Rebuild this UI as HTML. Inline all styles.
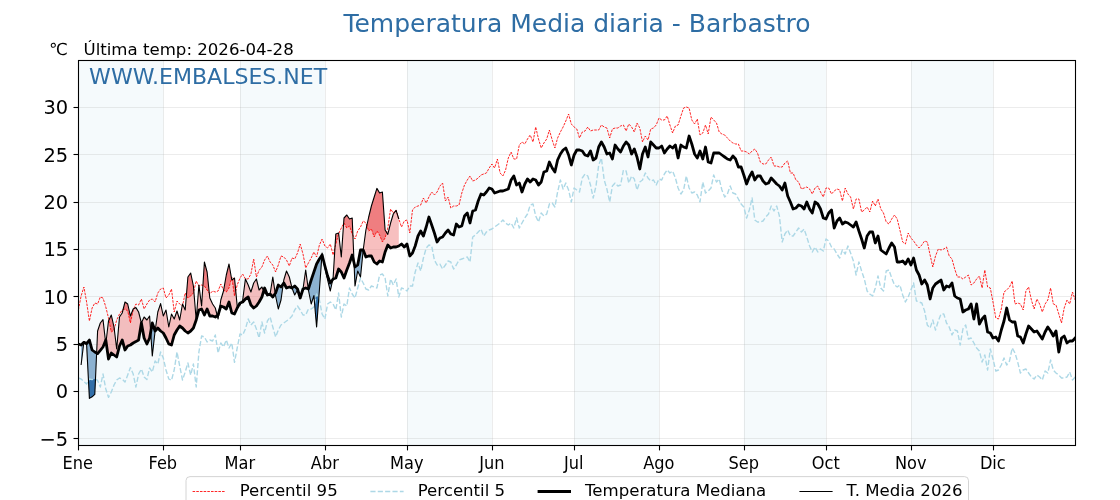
<!DOCTYPE html>
<html lang="es"><head><meta charset="utf-8"><title>Temperatura Media diaria - Barbastro</title>
<style>html,body{margin:0;padding:0;background:#fff;}body{width:1120px;height:500px;overflow:hidden;}svg{display:block;}text{font-family:"DejaVu Sans","Liberation Sans",sans-serif;}</style></head><body>
<svg width="1120" height="500" viewBox="0 0 1120 500">
<rect width="1120" height="500" fill="#fff"/>
<defs><clipPath id="ax"><rect x="78.4" y="60.0" width="996.8" height="385.0"/></clipPath></defs>
<g fill="#f5fafc">
<rect x="78.4" y="60.0" width="84.9" height="385.0"/>
<rect x="240.0" y="60.0" width="84.9" height="385.0"/>
<rect x="407.0" y="60.0" width="84.9" height="385.0"/>
<rect x="574.1" y="60.0" width="84.9" height="385.0"/>
<rect x="743.8" y="60.0" width="82.2" height="385.0"/>
<rect x="910.9" y="60.0" width="82.2" height="385.0"/>
</g>
<g stroke="#b0b0b0" stroke-opacity="0.3" stroke-width="0.8" fill="none">
<line x1="163.5" y1="60.0" x2="163.5" y2="445.0"/>
<line x1="240.5" y1="60.0" x2="240.5" y2="445.0"/>
<line x1="325.5" y1="60.0" x2="325.5" y2="445.0"/>
<line x1="407.5" y1="60.0" x2="407.5" y2="445.0"/>
<line x1="492.5" y1="60.0" x2="492.5" y2="445.0"/>
<line x1="574.5" y1="60.0" x2="574.5" y2="445.0"/>
<line x1="659.5" y1="60.0" x2="659.5" y2="445.0"/>
<line x1="744.5" y1="60.0" x2="744.5" y2="445.0"/>
<line x1="826.5" y1="60.0" x2="826.5" y2="445.0"/>
<line x1="911.5" y1="60.0" x2="911.5" y2="445.0"/>
<line x1="993.5" y1="60.0" x2="993.5" y2="445.0"/>
<line x1="78.4" y1="438.5" x2="1075.2" y2="438.5"/>
<line x1="78.4" y1="391.5" x2="1075.2" y2="391.5"/>
<line x1="78.4" y1="344.5" x2="1075.2" y2="344.5"/>
<line x1="78.4" y1="296.5" x2="1075.2" y2="296.5"/>
<line x1="78.4" y1="249.5" x2="1075.2" y2="249.5"/>
<line x1="78.4" y1="202.5" x2="1075.2" y2="202.5"/>
<line x1="78.4" y1="154.5" x2="1075.2" y2="154.5"/>
<line x1="78.4" y1="107.5" x2="1075.2" y2="107.5"/>
</g>
<g clip-path="url(#ax)">
<path d="M83.8 342.5 L83.9 341.6 L85.2 343.0 L85.2 343.0 L83.9 342.4 L83.8 342.5 Z" fill="#f08080" fill-opacity="0.5" stroke="none"/>
<path d="M96.6 353.0 L97.6 331.0 L100.3 323.0 L103.0 319.6 L105.4 340.9 L105.4 340.9 L103.0 347.0 L100.3 350.4 L97.6 353.6 L96.6 353.0 Z" fill="#f08080" fill-opacity="0.5" stroke="none"/>
<path d="M106.0 341.8 L108.5 321.0 L111.3 315.0 L114.0 327.0 L116.7 349.0 L119.5 317.0 L122.2 313.0 L125.0 302.0 L127.7 304.0 L130.4 316.0 L133.2 309.0 L135.9 307.6 L138.6 312.0 L141.4 323.0 L141.4 323.0 L138.6 340.0 L135.9 341.6 L133.2 343.0 L130.4 345.0 L127.7 346.0 L125.0 350.0 L122.2 340.0 L119.5 346.0 L116.7 357.0 L114.0 355.0 L111.3 353.0 L108.5 359.0 L106.0 341.8 Z" fill="#f08080" fill-opacity="0.5" stroke="none"/>
<path d="M141.4 323.0 L144.1 317.0 L146.9 320.0 L149.6 316.0 L150.7 332.0 L150.7 332.0 L149.6 338.0 L146.9 344.0 L144.1 338.0 L141.4 323.0 Z" fill="#f08080" fill-opacity="0.5" stroke="none"/>
<path d="M155.1 331.0 L157.8 312.0 L160.6 303.6 L163.3 316.0 L166.0 310.0 L168.8 327.0 L171.5 314.0 L174.2 319.0 L177.0 311.0 L179.7 320.0 L182.5 304.0 L185.2 310.0 L187.9 277.0 L190.7 273.0 L193.4 286.0 L196.2 320.0 L196.2 320.0 L193.4 328.0 L190.7 331.0 L187.9 333.0 L185.2 331.0 L182.5 328.0 L179.7 326.0 L177.0 330.0 L174.2 335.0 L171.5 345.0 L168.8 344.0 L166.0 338.0 L163.3 333.0 L160.6 331.0 L157.8 328.0 L155.1 331.0 Z" fill="#f08080" fill-opacity="0.5" stroke="none"/>
<path d="M196.2 320.0 L198.9 285.0 L201.6 306.0 L204.4 262.0 L207.1 272.0 L209.8 298.0 L212.6 304.0 L215.3 308.0 L217.2 315.6 L217.2 315.6 L215.3 317.0 L212.6 316.0 L209.8 316.0 L207.1 309.0 L204.4 315.0 L201.6 309.0 L198.9 310.0 L196.2 320.0 Z" fill="#f08080" fill-opacity="0.5" stroke="none"/>
<path d="M219.2 311.4 L220.8 300.0 L223.5 291.0 L226.3 275.0 L229.0 264.0 L231.8 280.0 L234.5 278.0 L237.2 306.0 L238.6 305.5 L238.6 305.5 L237.2 308.0 L234.5 314.0 L231.8 313.0 L229.0 302.0 L226.3 309.0 L223.5 307.0 L220.8 306.0 L219.2 311.4 Z" fill="#f08080" fill-opacity="0.5" stroke="none"/>
<path d="M241.3 302.5 L242.7 300.0 L245.4 279.0 L248.2 285.0 L250.9 292.0 L253.7 283.0 L256.4 279.0 L259.1 290.0 L261.9 287.0 L263.7 291.0 L263.7 291.0 L261.9 297.0 L259.1 302.0 L256.4 306.0 L253.7 308.0 L250.9 305.0 L248.2 297.0 L245.4 299.0 L242.7 302.0 L241.3 302.5 Z" fill="#f08080" fill-opacity="0.5" stroke="none"/>
<path d="M270.1 294.0 L272.8 277.0 L275.2 293.5 L275.2 293.5 L272.8 297.0 L270.1 294.0 Z" fill="#f08080" fill-opacity="0.5" stroke="none"/>
<path d="M283.3 283.8 L283.8 280.0 L286.5 271.0 L289.3 277.0 L292.0 288.0 L292.0 288.0 L289.3 287.0 L286.5 288.0 L283.8 283.0 L283.3 283.8 Z" fill="#f08080" fill-opacity="0.5" stroke="none"/>
<path d="M303.0 289.0 L305.7 270.0 L308.3 288.9 L308.3 288.9 L305.7 288.0 L303.0 289.0 Z" fill="#f08080" fill-opacity="0.5" stroke="none"/>
<path d="M322.0 255.2 L322.1 253.0 L323.5 260.5 L323.5 260.5 L322.1 255.0 L322.0 255.2 Z" fill="#f08080" fill-opacity="0.5" stroke="none"/>
<path d="M332.8 279.4 L333.1 278.0 L335.8 234.0 L338.6 233.0 L341.3 257.0 L344.0 218.0 L346.8 215.0 L349.5 219.0 L352.2 218.0 L354.1 262.9 L354.1 262.9 L352.2 255.0 L349.5 263.0 L346.8 270.0 L344.0 278.0 L341.3 272.0 L338.6 269.0 L335.8 278.0 L333.1 279.0 L332.8 279.4 Z" fill="#f08080" fill-opacity="0.5" stroke="none"/>
<path d="M363.2 250.0 L365.9 230.0 L368.7 217.0 L371.4 206.0 L374.2 197.0 L376.9 188.4 L379.6 193.0 L382.4 192.0 L385.1 230.0 L387.8 234.4 L390.6 223.0 L393.3 214.0 L396.1 210.4 L398.8 219.0 L398.8 246.0 L396.1 247.0 L393.3 247.0 L390.6 248.0 L387.8 245.0 L385.1 252.0 L382.4 262.0 L379.6 261.0 L376.9 264.0 L374.2 262.0 L371.4 256.0 L368.7 256.0 L365.9 257.0 L363.2 250.0 Z" fill="#f08080" fill-opacity="0.5" stroke="none"/>
<path d="M108.9 320.1 L111.3 315.0 L114.0 327.0 L114.3 329.1 L114.3 329.1 L114.0 330.0 L111.3 332.0 L108.9 320.1 Z" fill="#e73e42" fill-opacity="0.5" stroke="none"/>
<path d="M123.0 309.7 L125.0 302.0 L127.7 304.0 L130.4 316.0 L133.2 309.0 L133.8 308.7 L133.8 308.7 L133.2 310.0 L130.4 323.0 L127.7 311.0 L125.0 309.0 L123.0 309.7 Z" fill="#e73e42" fill-opacity="0.5" stroke="none"/>
<path d="M182.2 305.8 L182.5 304.0 L182.7 304.6 L182.7 304.6 L182.5 306.0 L182.2 305.8 Z" fill="#e73e42" fill-opacity="0.5" stroke="none"/>
<path d="M186.4 295.2 L187.9 277.0 L190.7 273.0 L193.4 286.0 L193.8 291.2 L193.8 291.2 L193.4 293.0 L190.7 296.0 L187.9 298.0 L186.4 295.2 Z" fill="#e73e42" fill-opacity="0.5" stroke="none"/>
<path d="M198.8 285.9 L198.9 285.0 L199.0 286.0 L199.0 286.0 L198.9 286.0 L198.8 285.9 Z" fill="#e73e42" fill-opacity="0.5" stroke="none"/>
<path d="M202.9 285.5 L204.4 262.0 L207.1 272.0 L209.3 293.3 L209.3 293.3 L207.1 290.0 L204.4 286.0 L202.9 285.5 Z" fill="#e73e42" fill-opacity="0.5" stroke="none"/>
<path d="M223.7 290.1 L226.3 275.0 L229.0 264.0 L231.4 278.2 L231.4 278.2 L229.0 288.0 L226.3 292.0 L223.7 290.1 Z" fill="#e73e42" fill-opacity="0.5" stroke="none"/>
<path d="M232.1 279.7 L234.5 278.0 L235.8 290.9 L235.8 290.9 L234.5 296.0 L232.1 279.7 Z" fill="#e73e42" fill-opacity="0.5" stroke="none"/>
<path d="M335.0 247.3 L335.8 234.0 L338.6 233.0 L338.6 233.8 L338.6 233.8 L338.6 234.0 L335.8 244.0 L335.0 247.3 Z" fill="#e73e42" fill-opacity="0.5" stroke="none"/>
<path d="M343.6 223.7 L344.0 218.0 L346.8 215.0 L349.5 219.0 L352.2 218.0 L352.9 235.3 L352.9 235.3 L352.2 234.0 L349.5 226.0 L346.8 228.0 L344.0 223.0 L343.6 223.7 Z" fill="#e73e42" fill-opacity="0.5" stroke="none"/>
<path d="M366.9 225.7 L368.7 217.0 L371.4 206.0 L374.2 197.0 L376.9 188.4 L379.6 193.0 L382.4 192.0 L385.1 230.0 L386.6 232.4 L386.6 232.4 L385.1 238.0 L382.4 242.0 L379.6 235.0 L376.9 231.0 L374.2 237.0 L371.4 229.0 L368.7 231.0 L366.9 225.7 Z" fill="#e73e42" fill-opacity="0.5" stroke="none"/>
<path d="M81.1 345.0 L83.8 342.5 L83.8 342.5 L81.1 365.0 Z" fill="#4682b4" fill-opacity="0.6" stroke="none"/>
<path d="M85.2 343.0 L86.6 343.6 L89.4 340.0 L92.1 350.0 L94.8 352.0 L96.6 353.0 L96.6 353.0 L94.8 394.4 L92.1 396.8 L89.4 398.4 L86.6 344.4 L85.2 343.0 Z" fill="#4682b4" fill-opacity="0.6" stroke="none"/>
<path d="M105.4 340.9 L105.8 340.0 L106.0 341.8 L106.0 341.8 L105.8 344.0 L105.4 340.9 Z" fill="#4682b4" fill-opacity="0.6" stroke="none"/>
<path d="M150.7 332.0 L152.3 323.0 L155.1 331.0 L155.1 331.0 L152.3 356.0 L150.7 332.0 Z" fill="#4682b4" fill-opacity="0.6" stroke="none"/>
<path d="M217.2 315.6 L218.1 315.0 L219.2 311.4 L219.2 311.4 L218.1 319.0 L217.2 315.6 Z" fill="#4682b4" fill-opacity="0.6" stroke="none"/>
<path d="M238.6 305.5 L240.0 303.0 L241.3 302.5 L241.3 302.5 L240.0 305.0 L238.6 305.5 Z" fill="#4682b4" fill-opacity="0.6" stroke="none"/>
<path d="M263.7 291.0 L264.6 288.0 L267.4 295.0 L267.4 295.0 L264.6 293.0 L263.7 291.0 Z" fill="#4682b4" fill-opacity="0.6" stroke="none"/>
<path d="M275.2 293.5 L275.6 293.0 L278.3 285.0 L281.0 287.0 L283.3 283.8 L283.3 283.8 L281.0 300.0 L278.3 309.0 L275.6 296.0 L275.2 293.5 Z" fill="#4682b4" fill-opacity="0.6" stroke="none"/>
<path d="M292.0 288.0 L294.7 286.0 L297.5 289.0 L300.2 298.0 L300.2 298.0 L297.5 290.0 L294.7 295.0 L292.0 288.0 Z" fill="#4682b4" fill-opacity="0.6" stroke="none"/>
<path d="M308.3 288.9 L308.4 289.0 L311.2 280.0 L313.9 272.0 L316.6 264.0 L319.4 259.0 L322.0 255.2 L322.0 255.2 L319.4 290.0 L316.6 327.0 L313.9 295.6 L311.2 304.0 L308.4 290.0 L308.3 288.9 Z" fill="#4682b4" fill-opacity="0.6" stroke="none"/>
<path d="M323.5 260.5 L324.9 266.0 L327.6 276.0 L330.3 283.0 L332.8 279.4 L332.8 279.4 L330.3 291.0 L327.6 280.0 L324.9 268.0 L323.5 260.5 Z" fill="#4682b4" fill-opacity="0.6" stroke="none"/>
<path d="M354.1 262.9 L355.0 267.0 L357.7 265.0 L360.5 250.0 L363.2 250.0 L363.2 250.0 L360.5 277.0 L357.7 271.0 L355.0 286.0 L354.1 262.9 Z" fill="#4682b4" fill-opacity="0.6" stroke="none"/>
<path d="M88.5 380.6 L89.4 379.0 L92.1 379.6 L94.8 379.0 L95.5 379.3 L95.5 379.3 L94.8 394.4 L92.1 396.8 L89.4 398.4 L88.5 380.6 Z" fill="#2766a3" fill-opacity="0.9" stroke="none"/>
<path d="M314.6 303.7 L316.6 294.0 L318.7 298.6 L318.7 298.6 L316.6 327.0 L314.6 303.7 Z" fill="#2766a3" fill-opacity="0.9" stroke="none"/>
<path d="M78.4 310.0 L81.1 296.0 L83.9 287.0 L86.6 302.0 L89.4 321.0 L92.1 308.0 L94.8 303.0 L97.6 304.0 L100.3 297.0 L103.0 298.0 L105.8 307.0 L108.5 318.0 L111.3 332.0 L114.0 330.0 L116.7 320.0 L119.5 314.0 L122.2 310.0 L125.0 309.0 L127.7 311.0 L130.4 323.0 L133.2 310.0 L135.9 304.0 L138.6 305.0 L141.4 299.0 L144.1 309.0 L146.9 304.0 L149.6 300.0 L152.3 299.0 L155.1 302.0 L157.8 293.0 L160.6 289.0 L163.3 288.0 L166.0 298.0 L168.8 295.0 L171.5 289.0 L174.2 312.0 L177.0 301.0 L179.7 304.0 L182.5 306.0 L185.2 293.0 L187.9 298.0 L190.7 296.0 L193.4 293.0 L196.2 281.0 L198.9 286.0 L201.6 285.0 L204.4 286.0 L207.1 290.0 L209.8 294.0 L212.6 291.0 L215.3 292.0 L218.1 291.0 L220.8 284.0 L223.5 290.0 L226.3 292.0 L229.0 288.0 L231.8 277.0 L234.5 296.0 L237.2 285.0 L240.0 278.0 L242.7 274.0 L245.4 279.0 L248.2 278.9 L250.9 274.0 L253.7 259.0 L256.4 277.0 L259.1 270.3 L261.9 267.0 L264.6 260.0 L267.4 256.0 L270.1 262.0 L272.8 265.0 L275.6 272.0 L278.3 265.0 L281.0 256.0 L283.8 257.0 L286.5 260.0 L289.3 266.0 L292.0 258.0 L294.7 259.0 L297.5 253.0 L300.2 244.0 L303.0 254.0 L305.7 268.0 L308.4 263.0 L311.2 258.0 L313.9 252.0 L316.6 257.0 L319.4 245.0 L322.1 239.0 L324.9 246.0 L327.6 248.0 L330.3 244.0 L333.1 255.0 L335.8 244.0 L338.6 234.0 L341.3 228.0 L344.0 223.0 L346.8 228.0 L349.5 226.0 L352.2 234.0 L355.0 239.0 L357.7 231.0 L360.5 227.0 L363.2 221.0 L365.9 223.0 L368.7 231.0 L371.4 229.0 L374.2 237.0 L376.9 231.0 L379.6 235.0 L382.4 242.0 L385.1 238.0 L387.8 228.0 L390.6 209.0 L393.3 213.0 L396.1 210.0 L398.8 219.0 L401.5 227.0 L404.3 221.0 L407.0 220.0 L409.8 233.0 L412.5 210.0 L415.2 207.0 L418.0 206.0 L420.7 205.0 L423.4 198.0 L426.2 203.0 L428.9 197.0 L431.7 192.0 L434.4 195.0 L437.1 192.0 L439.9 186.0 L442.6 183.0 L445.4 201.0 L448.1 197.0 L450.8 208.0 L453.6 206.0 L456.3 206.0 L459.0 205.0 L461.8 193.0 L464.5 185.0 L467.3 180.0 L470.0 176.0 L472.7 181.0 L475.5 180.0 L478.2 178.0 L481.0 175.0 L483.7 174.0 L486.4 173.0 L489.2 168.0 L491.9 164.0 L494.6 168.0 L497.4 159.0 L500.1 173.0 L502.9 176.0 L505.6 170.0 L508.3 158.0 L511.1 152.0 L513.8 159.0 L516.6 159.0 L519.3 145.0 L522.0 142.0 L524.8 144.0 L527.5 139.0 L530.2 135.0 L533.0 142.0 L535.7 127.0 L538.5 139.0 L541.2 148.0 L543.9 143.0 L546.7 139.0 L549.4 130.0 L552.2 140.0 L554.9 148.0 L557.6 138.0 L560.4 132.0 L563.1 127.0 L565.8 121.0 L568.6 114.0 L571.3 124.0 L574.1 127.0 L576.8 129.0 L579.5 138.0 L582.3 132.0 L585.0 131.0 L587.8 127.0 L590.5 131.0 L593.2 130.0 L596.0 130.0 L598.7 130.0 L601.4 125.0 L604.2 127.0 L606.9 128.0 L609.7 138.0 L612.4 129.0 L615.1 128.0 L617.9 128.0 L620.6 126.0 L623.4 125.0 L626.1 131.0 L628.8 124.0 L631.6 127.0 L634.3 132.0 L637.0 123.0 L639.8 128.0 L642.5 142.0 L645.3 136.0 L648.0 140.0 L650.7 129.0 L653.5 128.0 L656.2 125.0 L659.0 118.0 L661.7 120.0 L664.4 120.0 L667.2 116.0 L669.9 125.0 L672.6 133.0 L675.4 126.0 L678.1 125.0 L680.9 116.0 L683.6 108.0 L686.3 107.0 L689.1 108.0 L691.8 120.0 L694.6 124.0 L697.3 119.0 L700.0 135.0 L702.8 133.0 L705.5 125.0 L708.2 134.0 L711.0 117.0 L713.7 120.0 L716.5 123.0 L719.2 132.0 L721.9 134.0 L724.7 135.0 L727.4 138.0 L730.2 141.0 L732.9 143.0 L735.6 144.0 L738.4 144.0 L741.1 151.0 L743.8 151.0 L746.6 152.0 L749.3 154.0 L752.1 151.0 L754.8 149.0 L757.5 153.0 L760.3 162.0 L763.0 164.0 L765.8 164.0 L768.5 160.0 L771.2 157.0 L774.0 166.0 L776.7 166.0 L779.4 167.0 L782.2 167.0 L784.9 163.0 L787.7 161.0 L790.4 173.0 L793.1 173.0 L795.9 180.0 L798.6 182.0 L801.4 189.0 L804.1 188.0 L806.8 187.0 L809.6 189.0 L812.3 194.0 L815.0 188.0 L817.8 186.0 L820.5 192.0 L823.3 197.0 L826.0 188.0 L828.7 188.0 L831.5 194.0 L834.2 191.0 L837.0 189.0 L839.7 190.0 L842.4 201.0 L845.2 188.0 L847.9 194.0 L850.6 197.0 L853.4 209.0 L856.1 199.0 L858.9 199.0 L861.6 212.0 L864.3 210.0 L867.1 207.0 L869.8 212.0 L872.6 201.0 L875.3 206.0 L878.0 199.0 L880.8 209.0 L883.5 213.0 L886.2 222.0 L889.0 224.0 L891.7 219.0 L894.5 215.0 L897.2 219.0 L899.9 230.0 L902.7 242.0 L905.4 244.0 L908.2 233.0 L910.9 238.0 L913.6 241.0 L916.4 245.0 L919.1 248.0 L921.8 245.0 L924.6 241.0 L927.3 242.0 L930.1 255.0 L932.8 267.0 L935.5 256.0 L938.3 249.0 L941.0 250.0 L943.8 249.0 L946.5 247.0 L949.2 256.0 L952.0 259.0 L954.7 269.0 L957.4 277.0 L960.2 277.0 L962.9 279.0 L965.7 277.0 L968.4 275.0 L971.1 285.0 L973.9 283.0 L976.6 279.0 L979.4 276.0 L982.1 288.0 L984.8 270.0 L987.6 287.0 L990.3 288.0 L993.0 302.0 L995.8 318.0 L998.5 319.0 L1001.3 309.0 L1004.0 292.0 L1006.7 290.0 L1009.5 287.0 L1012.2 281.0 L1015.0 304.0 L1017.7 303.0 L1020.4 304.0 L1023.2 310.0 L1025.9 291.0 L1028.6 287.0 L1031.4 300.0 L1034.1 309.0 L1036.9 299.0 L1039.6 304.0 L1042.3 312.0 L1045.1 304.0 L1047.8 300.0 L1050.6 288.0 L1053.3 304.0 L1056.0 305.0 L1058.8 314.0 L1061.5 323.0 L1064.2 308.0 L1067.0 300.0 L1069.7 304.0 L1072.5 292.0 L1075.2 300.0" fill="none" stroke="#ff0000" stroke-width="0.85" stroke-dasharray="2.57 1.11" stroke-linejoin="round"/>
<path d="M78.4 378.0 L81.1 379.0 L83.9 381.6 L86.6 384.0 L89.4 379.0 L92.1 379.6 L94.8 379.0 L97.6 380.4 L100.3 387.0 L103.0 374.0 L105.8 389.0 L108.5 397.4 L111.3 392.0 L114.0 385.0 L116.7 380.0 L119.5 378.0 L122.2 379.0 L125.0 382.0 L127.7 375.0 L130.4 367.6 L133.2 374.0 L135.9 387.0 L138.6 374.0 L141.4 369.0 L144.1 377.0 L146.9 379.6 L149.6 368.0 L152.3 372.0 L155.1 361.0 L157.8 364.0 L160.6 352.0 L163.3 358.0 L166.0 370.0 L168.8 379.0 L171.5 380.4 L174.2 370.0 L177.0 352.0 L179.7 366.0 L182.5 380.0 L185.2 372.0 L187.9 363.0 L190.7 375.0 L193.4 364.0 L196.2 387.0 L198.9 352.0 L201.6 336.0 L204.4 337.0 L207.1 342.0 L209.8 340.0 L212.6 341.0 L215.3 335.0 L218.1 353.0 L220.8 343.0 L223.5 347.0 L226.3 340.0 L229.0 348.0 L231.8 343.0 L234.5 362.4 L237.2 348.0 L240.0 334.0 L242.7 335.0 L245.4 329.0 L248.2 319.0 L250.9 325.0 L253.7 322.0 L256.4 329.0 L259.1 338.0 L261.9 322.0 L264.6 333.0 L267.4 321.0 L270.1 317.0 L272.8 327.0 L275.6 337.0 L278.3 330.0 L281.0 325.0 L283.8 323.0 L286.5 321.0 L289.3 319.0 L292.0 316.0 L294.7 310.0 L297.5 306.0 L300.2 310.0 L303.0 315.0 L305.7 315.0 L308.4 309.0 L311.2 309.0 L313.9 307.0 L316.6 294.0 L319.4 300.0 L322.1 314.0 L324.9 319.0 L327.6 304.0 L330.3 302.0 L333.1 304.0 L335.8 310.0 L338.6 293.0 L341.3 317.0 L344.0 304.0 L346.8 306.0 L349.5 288.0 L352.2 294.0 L355.0 298.0 L357.7 288.0 L360.5 278.0 L363.2 283.0 L365.9 289.0 L368.7 290.0 L371.4 286.0 L374.2 287.0 L376.9 288.0 L379.6 275.0 L382.4 274.0 L385.1 278.0 L387.8 296.0 L390.6 279.0 L393.3 285.0 L396.1 279.0 L398.8 297.0 L401.5 288.0 L404.3 289.0 L407.0 291.0 L409.8 286.0 L412.5 286.0 L415.2 272.0 L418.0 263.0 L420.7 271.0 L423.4 258.0 L426.2 248.0 L428.9 245.0 L431.7 246.0 L434.4 260.0 L437.1 265.0 L439.9 264.0 L442.6 269.0 L445.4 265.0 L448.1 261.0 L450.8 262.0 L453.6 269.0 L456.3 265.0 L459.0 260.0 L461.8 259.0 L464.5 258.0 L467.3 257.0 L470.0 262.0 L472.7 237.0 L475.5 235.0 L478.2 232.0 L481.0 229.0 L483.7 236.0 L486.4 232.0 L489.2 230.0 L491.9 229.0 L494.6 227.0 L497.4 225.0 L500.1 223.0 L502.9 220.0 L505.6 223.0 L508.3 225.0 L511.1 223.0 L513.8 228.0 L516.6 218.0 L519.3 228.0 L522.0 223.0 L524.8 218.0 L527.5 214.0 L530.2 205.0 L533.0 204.0 L535.7 216.0 L538.5 222.0 L541.2 213.0 L543.9 216.0 L546.7 214.0 L549.4 204.0 L552.2 203.0 L554.9 207.0 L557.6 192.0 L560.4 180.0 L563.1 189.0 L565.8 183.0 L568.6 190.0 L571.3 202.0 L574.1 188.0 L576.8 190.0 L579.5 192.0 L582.3 178.0 L585.0 174.0 L587.8 176.0 L590.5 185.0 L593.2 198.0 L596.0 186.0 L598.7 165.0 L601.4 158.0 L604.2 180.0 L606.9 189.0 L609.7 202.0 L612.4 186.0 L615.1 183.0 L617.9 186.0 L620.6 185.0 L623.4 170.0 L626.1 171.0 L628.8 183.0 L631.6 176.0 L634.3 179.0 L637.0 190.0 L639.8 182.0 L642.5 180.0 L645.3 173.0 L648.0 178.0 L650.7 181.0 L653.5 180.0 L656.2 185.0 L659.0 179.0 L661.7 180.0 L664.4 174.0 L667.2 170.0 L669.9 173.0 L672.6 171.0 L675.4 178.0 L678.1 188.0 L680.9 194.0 L683.6 190.0 L686.3 176.0 L689.1 188.0 L691.8 193.0 L694.6 192.0 L697.3 195.0 L700.0 202.0 L702.8 182.0 L705.5 193.0 L708.2 191.0 L711.0 188.0 L713.7 175.0 L716.5 182.0 L719.2 179.0 L721.9 190.0 L724.7 197.0 L727.4 194.0 L730.2 186.0 L732.9 193.0 L735.6 194.0 L738.4 199.0 L741.1 204.0 L743.8 207.0 L746.6 218.0 L749.3 210.0 L752.1 198.0 L754.8 220.0 L757.5 222.0 L760.3 222.0 L763.0 221.0 L765.8 217.0 L768.5 214.0 L771.2 206.0 L774.0 211.0 L776.7 206.0 L779.4 216.0 L782.2 242.0 L784.9 234.0 L787.7 230.0 L790.4 236.0 L793.1 236.0 L795.9 232.0 L798.6 228.0 L801.4 232.0 L804.1 229.0 L806.8 237.0 L809.6 246.0 L812.3 252.0 L815.0 247.0 L817.8 252.0 L820.5 249.0 L823.3 251.0 L826.0 239.0 L828.7 241.0 L831.5 247.0 L834.2 249.0 L837.0 254.0 L839.7 258.0 L842.4 250.0 L845.2 254.0 L847.9 246.0 L850.6 253.0 L853.4 261.0 L856.1 275.0 L858.9 262.0 L861.6 271.0 L864.3 279.0 L867.1 291.0 L869.8 294.0 L872.6 296.0 L875.3 288.0 L878.0 276.0 L880.8 288.0 L883.5 291.0 L886.2 271.0 L889.0 270.0 L891.7 278.0 L894.5 285.0 L897.2 287.0 L899.9 285.0 L902.7 295.0 L905.4 302.0 L908.2 297.0 L910.9 290.0 L913.6 283.0 L916.4 301.0 L919.1 302.0 L921.8 303.0 L924.6 311.0 L927.3 325.0 L930.1 328.0 L932.8 320.0 L935.5 330.0 L938.3 321.0 L941.0 314.0 L943.8 314.0 L946.5 323.0 L949.2 327.0 L952.0 335.0 L954.7 330.0 L957.4 331.0 L960.2 345.0 L962.9 329.0 L965.7 325.0 L968.4 339.0 L971.1 338.0 L973.9 343.0 L976.6 348.0 L979.4 351.0 L982.1 362.0 L984.8 355.0 L987.6 370.0 L990.3 349.0 L993.0 359.0 L995.8 371.0 L998.5 370.0 L1001.3 365.0 L1004.0 358.0 L1006.7 365.0 L1009.5 361.0 L1012.2 348.0 L1015.0 353.0 L1017.7 362.0 L1020.4 373.0 L1023.2 370.0 L1025.9 369.0 L1028.6 373.0 L1031.4 377.0 L1034.1 379.0 L1036.9 375.0 L1039.6 377.0 L1042.3 380.0 L1045.1 371.0 L1047.8 373.0 L1050.6 360.0 L1053.3 370.0 L1056.0 373.0 L1058.8 375.0 L1061.5 378.0 L1064.2 378.0 L1067.0 377.0 L1069.7 372.0 L1072.5 380.0 L1075.2 377.0" fill="none" stroke="#add8e6" stroke-width="1.39" stroke-dasharray="5.14 2.22" stroke-linejoin="round"/>
<path d="M78.4 344.0 L81.1 345.0 L83.9 342.4 L86.6 343.6 L89.4 340.0 L92.1 350.0 L94.8 352.0 L97.6 353.6 L100.3 350.4 L103.0 347.0 L105.8 340.0 L108.5 359.0 L111.3 353.0 L114.0 355.0 L116.7 357.0 L119.5 346.0 L122.2 340.0 L125.0 350.0 L127.7 346.0 L130.4 345.0 L133.2 343.0 L135.9 341.6 L138.6 340.0 L141.4 323.0 L144.1 338.0 L146.9 344.0 L149.6 338.0 L152.3 323.0 L155.1 331.0 L157.8 328.0 L160.6 331.0 L163.3 333.0 L166.0 338.0 L168.8 344.0 L171.5 345.0 L174.2 335.0 L177.0 330.0 L179.7 326.0 L182.5 328.0 L185.2 331.0 L187.9 333.0 L190.7 331.0 L193.4 328.0 L196.2 320.0 L198.9 310.0 L201.6 309.0 L204.4 315.0 L207.1 309.0 L209.8 316.0 L212.6 316.0 L215.3 317.0 L218.1 315.0 L220.8 306.0 L223.5 307.0 L226.3 309.0 L229.0 302.0 L231.8 313.0 L234.5 314.0 L237.2 308.0 L240.0 303.0 L242.7 302.0 L245.4 299.0 L248.2 297.0 L250.9 305.0 L253.7 308.0 L256.4 306.0 L259.1 302.0 L261.9 297.0 L264.6 288.0 L267.4 295.0 L270.1 294.0 L272.8 297.0 L275.6 293.0 L278.3 285.0 L281.0 287.0 L283.8 283.0 L286.5 288.0 L289.3 287.0 L292.0 288.0 L294.7 286.0 L297.5 289.0 L300.2 298.0 L303.0 289.0 L305.7 288.0 L308.4 289.0 L311.2 280.0 L313.9 272.0 L316.6 264.0 L319.4 259.0 L322.1 255.0 L324.9 266.0 L327.6 276.0 L330.3 283.0 L333.1 279.0 L335.8 278.0 L338.6 269.0 L341.3 272.0 L344.0 278.0 L346.8 270.0 L349.5 263.0 L352.2 255.0 L355.0 267.0 L357.7 265.0 L360.5 250.0 L363.2 250.0 L365.9 257.0 L368.7 256.0 L371.4 256.0 L374.2 262.0 L376.9 264.0 L379.6 261.0 L382.4 262.0 L385.1 252.0 L387.8 245.0 L390.6 248.0 L393.3 247.0 L396.1 247.0 L398.8 246.0 L401.5 244.0 L404.3 247.0 L407.0 244.0 L409.8 256.0 L412.5 253.0 L415.2 246.0 L418.0 236.0 L420.7 231.0 L423.4 236.0 L426.2 227.0 L428.9 217.0 L431.7 225.0 L434.4 233.0 L437.1 242.0 L439.9 238.0 L442.6 237.0 L445.4 233.0 L448.1 230.0 L450.8 234.0 L453.6 235.0 L456.3 224.0 L459.0 227.0 L461.8 226.0 L464.5 216.0 L467.3 213.0 L470.0 223.0 L472.7 211.0 L475.5 210.0 L478.2 201.0 L481.0 194.0 L483.7 195.0 L486.4 192.0 L489.2 188.0 L491.9 189.0 L494.6 193.0 L497.4 192.0 L500.1 191.0 L502.9 191.0 L505.6 190.0 L508.3 189.0 L511.1 180.0 L513.8 176.0 L516.6 185.0 L519.3 183.0 L522.0 192.0 L524.8 184.0 L527.5 179.0 L530.2 182.0 L533.0 179.0 L535.7 180.0 L538.5 185.0 L541.2 182.0 L543.9 172.0 L546.7 171.0 L549.4 162.0 L552.2 168.0 L554.9 172.0 L557.6 160.0 L560.4 154.0 L563.1 150.0 L565.8 148.0 L568.6 155.0 L571.3 165.0 L574.1 155.0 L576.8 150.0 L579.5 150.0 L582.3 151.0 L585.0 155.0 L587.8 156.0 L590.5 151.0 L593.2 160.0 L596.0 158.0 L598.7 147.0 L601.4 142.0 L604.2 147.0 L606.9 154.0 L609.7 153.0 L612.4 159.0 L615.1 145.0 L617.9 149.0 L620.6 152.0 L623.4 146.0 L626.1 142.0 L628.8 145.0 L631.6 154.0 L634.3 149.0 L637.0 157.0 L639.8 169.0 L642.5 154.0 L645.3 147.0 L648.0 157.0 L650.7 142.0 L653.5 145.0 L656.2 148.0 L659.0 148.0 L661.7 146.0 L664.4 153.0 L667.2 149.0 L669.9 146.0 L672.6 148.0 L675.4 145.0 L678.1 158.0 L680.9 145.0 L683.6 147.0 L686.3 148.0 L689.1 136.0 L691.8 144.0 L694.6 154.0 L697.3 158.0 L700.0 151.0 L702.8 159.0 L705.5 147.0 L708.2 162.0 L711.0 163.0 L713.7 153.0 L716.5 153.0 L719.2 153.0 L721.9 155.0 L724.7 157.0 L727.4 159.0 L730.2 160.0 L732.9 156.0 L735.6 159.0 L738.4 167.0 L741.1 167.0 L743.8 175.0 L746.6 184.0 L749.3 177.0 L752.1 172.0 L754.8 180.0 L757.5 176.0 L760.3 176.0 L763.0 181.0 L765.8 184.0 L768.5 183.0 L771.2 178.0 L774.0 181.0 L776.7 184.0 L779.4 186.0 L782.2 190.0 L784.9 183.0 L787.7 196.0 L790.4 202.0 L793.1 209.0 L795.9 208.0 L798.6 205.0 L801.4 206.0 L804.1 209.0 L806.8 202.0 L809.6 209.0 L812.3 213.0 L815.0 202.0 L817.8 204.0 L820.5 209.0 L823.3 218.0 L826.0 219.0 L828.7 213.0 L831.5 210.0 L834.2 228.0 L837.0 221.0 L839.7 218.0 L842.4 224.0 L845.2 222.0 L847.9 223.0 L850.6 225.0 L853.4 227.0 L856.1 222.0 L858.9 231.0 L861.6 239.0 L864.3 248.0 L867.1 236.0 L869.8 232.0 L872.6 232.0 L875.3 243.0 L878.0 236.0 L880.8 250.0 L883.5 252.0 L886.2 254.0 L889.0 248.0 L891.7 243.0 L894.5 247.0 L897.2 262.0 L899.9 262.0 L902.7 261.0 L905.4 264.0 L908.2 259.0 L910.9 265.0 L913.6 258.0 L916.4 270.0 L919.1 275.0 L921.8 284.0 L924.6 280.0 L927.3 285.0 L930.1 299.0 L932.8 288.0 L935.5 284.0 L938.3 282.0 L941.0 280.0 L943.8 290.0 L946.5 286.0 L949.2 287.0 L952.0 283.0 L954.7 296.0 L957.4 298.0 L960.2 299.0 L962.9 312.0 L965.7 310.0 L968.4 309.0 L971.1 304.0 L973.9 319.0 L976.6 304.0 L979.4 324.0 L982.1 319.0 L984.8 316.0 L987.6 332.0 L990.3 333.0 L993.0 338.0 L995.8 337.0 L998.5 341.0 L1001.3 330.0 L1004.0 321.0 L1006.7 308.0 L1009.5 320.0 L1012.2 322.0 L1015.0 322.0 L1017.7 336.0 L1020.4 337.0 L1023.2 343.0 L1025.9 334.0 L1028.6 326.0 L1031.4 329.0 L1034.1 332.0 L1036.9 331.0 L1039.6 335.0 L1042.3 339.0 L1045.1 332.0 L1047.8 327.0 L1050.6 331.0 L1053.3 336.0 L1056.0 331.0 L1058.8 352.0 L1061.5 338.0 L1064.2 336.0 L1067.0 343.0 L1069.7 341.0 L1072.5 341.0 L1075.2 338.0" fill="none" stroke="#000" stroke-width="2.8" stroke-linejoin="round" stroke-linecap="square"/>
<path d="M81.1 365.0 L83.9 341.6 L86.6 344.4 L89.4 398.4 L92.1 396.8 L94.8 394.4 L97.6 331.0 L100.3 323.0 L103.0 319.6 L105.8 344.0 L108.5 321.0 L111.3 315.0 L114.0 327.0 L116.7 349.0 L119.5 317.0 L122.2 313.0 L125.0 302.0 L127.7 304.0 L130.4 316.0 L133.2 309.0 L135.9 307.6 L138.6 312.0 L141.4 323.0 L144.1 317.0 L146.9 320.0 L149.6 316.0 L152.3 356.0 L155.1 331.0 L157.8 312.0 L160.6 303.6 L163.3 316.0 L166.0 310.0 L168.8 327.0 L171.5 314.0 L174.2 319.0 L177.0 311.0 L179.7 320.0 L182.5 304.0 L185.2 310.0 L187.9 277.0 L190.7 273.0 L193.4 286.0 L196.2 320.0 L198.9 285.0 L201.6 306.0 L204.4 262.0 L207.1 272.0 L209.8 298.0 L212.6 304.0 L215.3 308.0 L218.1 319.0 L220.8 300.0 L223.5 291.0 L226.3 275.0 L229.0 264.0 L231.8 280.0 L234.5 278.0 L237.2 306.0 L240.0 305.0 L242.7 300.0 L245.4 279.0 L248.2 285.0 L250.9 292.0 L253.7 283.0 L256.4 279.0 L259.1 290.0 L261.9 287.0 L264.6 293.0 L267.4 295.0 L270.1 294.0 L272.8 277.0 L275.6 296.0 L278.3 309.0 L281.0 300.0 L283.8 280.0 L286.5 271.0 L289.3 277.0 L292.0 288.0 L294.7 295.0 L297.5 290.0 L300.2 298.0 L303.0 289.0 L305.7 270.0 L308.4 290.0 L311.2 304.0 L313.9 295.6 L316.6 327.0 L319.4 290.0 L322.1 253.0 L324.9 268.0 L327.6 280.0 L330.3 291.0 L333.1 278.0 L335.8 234.0 L338.6 233.0 L341.3 257.0 L344.0 218.0 L346.8 215.0 L349.5 219.0 L352.2 218.0 L355.0 286.0 L357.7 271.0 L360.5 277.0 L363.2 250.0 L365.9 230.0 L368.7 217.0 L371.4 206.0 L374.2 197.0 L376.9 188.4 L379.6 193.0 L382.4 192.0 L385.1 230.0 L387.8 234.4 L390.6 223.0 L393.3 214.0 L396.1 210.4 L398.8 219.0" fill="none" stroke="#000" stroke-width="1.1" stroke-linejoin="round"/>
</g>
<rect x="78.5" y="60.5" width="997.0" height="385.0" fill="none" stroke="#000" stroke-width="1.1"/>
<g stroke="#000" stroke-width="1.1">
<line x1="78.5" y1="445.5" x2="78.5" y2="450.4"/>
<line x1="163.5" y1="445.5" x2="163.5" y2="450.4"/>
<line x1="240.5" y1="445.5" x2="240.5" y2="450.4"/>
<line x1="325.5" y1="445.5" x2="325.5" y2="450.4"/>
<line x1="407.5" y1="445.5" x2="407.5" y2="450.4"/>
<line x1="492.5" y1="445.5" x2="492.5" y2="450.4"/>
<line x1="574.5" y1="445.5" x2="574.5" y2="450.4"/>
<line x1="659.5" y1="445.5" x2="659.5" y2="450.4"/>
<line x1="744.5" y1="445.5" x2="744.5" y2="450.4"/>
<line x1="826.5" y1="445.5" x2="826.5" y2="450.4"/>
<line x1="911.5" y1="445.5" x2="911.5" y2="450.4"/>
<line x1="993.5" y1="445.5" x2="993.5" y2="450.4"/>
<line x1="73.5" y1="438.5" x2="78.4" y2="438.5"/>
<line x1="73.5" y1="391.5" x2="78.4" y2="391.5"/>
<line x1="73.5" y1="344.5" x2="78.4" y2="344.5"/>
<line x1="73.5" y1="296.5" x2="78.4" y2="296.5"/>
<line x1="73.5" y1="249.5" x2="78.4" y2="249.5"/>
<line x1="73.5" y1="202.5" x2="78.4" y2="202.5"/>
<line x1="73.5" y1="154.5" x2="78.4" y2="154.5"/>
<line x1="73.5" y1="107.5" x2="78.4" y2="107.5"/>
</g>
<g font-size="16.6px" fill="#000" text-anchor="middle">
<text transform="translate(77.8 468.8) scale(0.975 1.03)">Ene</text>
<text transform="translate(162.8 468.8) scale(0.975 1.03)">Feb</text>
<text transform="translate(239.8 468.8) scale(0.975 1.03)">Mar</text>
<text transform="translate(324.8 468.8) scale(0.975 1.03)">Abr</text>
<text transform="translate(406.8 468.8) scale(0.975 1.03)">May</text>
<text transform="translate(491.8 468.8) scale(0.975 1.03)">Jun</text>
<text transform="translate(573.8 468.8) scale(0.975 1.03)">Jul</text>
<text transform="translate(658.8 468.8) scale(0.975 1.03)">Ago</text>
<text transform="translate(743.8 468.8) scale(0.975 1.03)">Sep</text>
<text transform="translate(825.8 468.8) scale(0.975 1.03)">Oct</text>
<text transform="translate(910.8 468.8) scale(0.975 1.03)">Nov</text>
<text transform="translate(992.8 468.8) scale(0.975 1.03)">Dic</text>
</g>
<g font-size="19.44px" fill="#000" text-anchor="end">
<text x="68.2" y="445.5">−5</text>
<text x="68.2" y="398.2">0</text>
<text x="68.2" y="350.9">5</text>
<text x="68.2" y="303.6">10</text>
<text x="68.2" y="256.2">15</text>
<text x="68.2" y="208.9">20</text>
<text x="68.2" y="161.6">25</text>
<text x="68.2" y="114.2">30</text>
</g>
<text x="577.0" y="32.1" font-size="25px" fill="#2e6da4" text-anchor="middle">Temperatura Media diaria - Barbastro</text>
<text x="49.1" y="54.5" font-size="16.67px" fill="#000">℃</text>
<text x="83.5" y="54.5" font-size="16.6px" fill="#000">Última temp: 2026-04-28</text>
<text x="89.1" y="84" font-size="22.05px" fill="#2e6da4">WWW.EMBALSES.NET</text>
<rect x="186" y="476.6" width="782.5" height="40" rx="4" ry="4" fill="#fff" fill-opacity="0.8" stroke="#ccc" stroke-opacity="0.85" stroke-width="1"/>
<line x1="192.6" y1="491.5" x2="225.4" y2="491.5" stroke="#ff0000" stroke-width="0.85" stroke-dasharray="2.57 1.11"/>
<line x1="370.4" y1="491.5" x2="403.6" y2="491.5" stroke="#add8e6" stroke-width="1.39" stroke-dasharray="5.14 2.22"/>
<line x1="537.6" y1="491.5" x2="571" y2="491.5" stroke="#000" stroke-width="2.8"/>
<line x1="799.4" y1="491.5" x2="832.6" y2="491.5" stroke="#000" stroke-width="1.1"/>
<g font-size="16.6px" fill="#000">
<text x="239.7" y="496.2">Percentil 95</text>
<text x="417.7" y="496.2">Percentil 5</text>
<text x="585" y="496.2">Temperatura Mediana</text>
<text x="846.5" y="496.2">T. Media 2026</text>
</g>
</svg></body></html>
